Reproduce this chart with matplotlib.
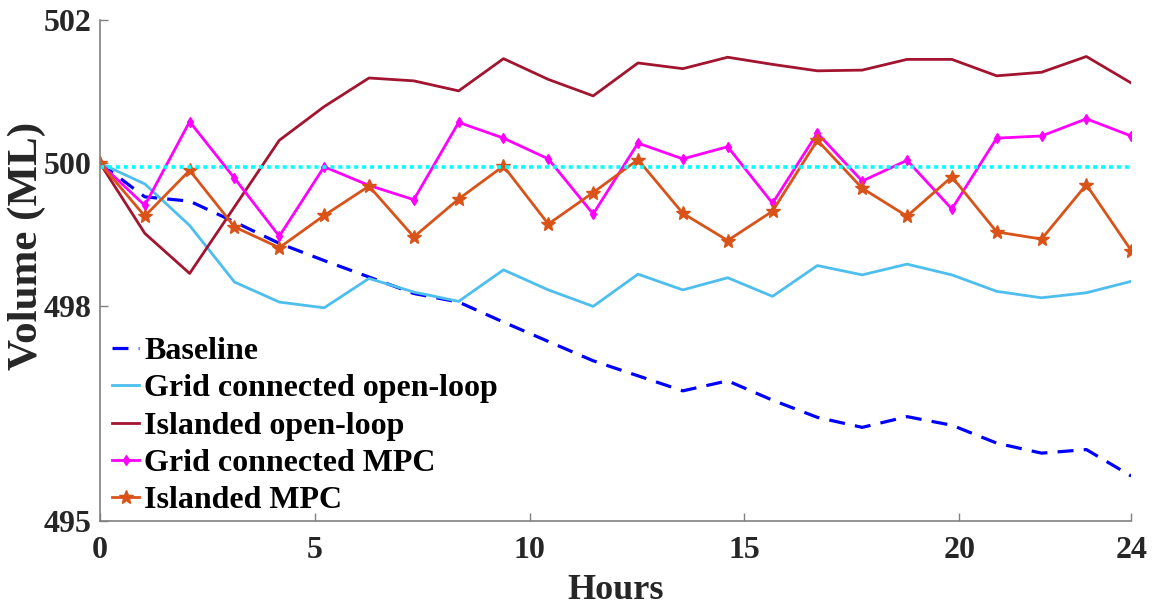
import numpy as np
import matplotlib
matplotlib.use("Agg")
import matplotlib.pyplot as plt

plt.rcParams['font.family'] = ['Liberation Serif', 'DejaVu Serif']
plt.rcParams['font.weight'] = 'bold'

# 24 samples over the day
hours = np.linspace(0, 24, 24)

baseline = [500.00, 499.53, 499.47, 499.18, 498.88, 498.64, 498.41, 498.18,
            498.06, 497.78, 497.51, 497.24, 497.03, 496.82, 496.96, 496.69,
            496.45, 496.31, 496.46, 496.34, 496.09, 495.95, 496.00, 495.63]
grid_open = [500.00, 499.71, 499.13, 498.34, 498.06, 497.98, 498.39, 498.20,
             498.07, 498.51, 498.23, 498.00, 498.45, 498.23, 498.40, 498.14,
             498.57, 498.44, 498.59, 498.44, 498.21, 498.12, 498.19, 498.35]
island_open = [500.00, 499.02, 498.46, 499.39, 500.32, 500.79, 501.19, 501.15,
               501.01, 501.46, 501.17, 500.94, 501.40, 501.32, 501.48, 501.38,
               501.29, 501.30, 501.45, 501.45, 501.22, 501.27, 501.49, 501.12]
grid_mpc = [500.00, 499.41, 500.58, 499.79, 498.98, 499.95, 499.69, 499.49,
            500.57, 500.35, 500.06, 499.29, 500.28, 500.06, 500.23, 499.44,
            500.42, 499.75, 500.04, 499.36, 500.35, 500.38, 500.62, 500.38]
island_mpc = [500.00, 499.26, 499.90, 499.11, 498.82, 499.27, 499.68, 498.97,
              499.50, 499.96, 499.15, 499.59, 500.05, 499.30, 498.92, 499.33,
              500.32, 499.65, 499.26, 499.81, 499.04, 498.94, 499.70, 498.78]
target = 499.95

labels = ['Baseline', 'Grid connected open-loop', 'Islanded open-loop',
          'Grid connected MPC', 'Islanded MPC']

fig = plt.figure(figsize=(11.53, 6.06), dpi=100)
ax = fig.add_axes([0.0867, 0.140, 0.8944, 0.827])

ax.plot(hours, baseline, color='#0000ff', lw=2.3, dashes=(5, 3.2), label=labels[0])
ax.plot(hours, grid_open, color='#4DBEEE', lw=2.0, label=labels[1])
ax.plot(hours, island_open, color='#A2142F', lw=2.0, label=labels[2])
ax.plot(hours, grid_mpc, color='#ff00ff', lw=2.0, marker='d', markersize=5,
        label=labels[3])
ax.plot(hours, island_mpc, color='#D95319', lw=2.0, marker='*', markersize=10,
        label=labels[4])
ax.plot([hours[0], hours[-1]], [target, target], color='#00ffff', lw=2.6,
        dashes=(1.1, 1.1))

ax.set_xlim(0, 24)
ax.set_ylim(495, 502)
ax.set_xticks([0, 5, 10, 15, 20, 24])
ax.set_yticks([495, 498, 500, 502])

for s in ['top', 'right']:
    ax.spines[s].set_visible(False)
for s in ['left', 'bottom']:
    ax.spines[s].set_color('#808080')
    ax.spines[s].set_linewidth(1.2)
ax.tick_params(direction='in', length=6, width=1.0, color='#808080',
               labelsize=23, labelcolor='#262626')
ax.tick_params(axis='x', pad=11)
ax.tick_params(axis='y', pad=6)

ax.set_xlabel('Hours', fontsize=26, fontweight='bold', color='#262626', labelpad=6)
ax.set_ylabel('Volume (ML)', fontsize=31, fontweight='bold', color='#262626')
ax.yaxis.set_label_coords(-0.052, 0.55)

leg = ax.legend(loc='upper left', bbox_to_anchor=(0.012, 0.368), frameon=False,
                fontsize=23, handlelength=0.85, handletextpad=0.15,
                labelspacing=0.25, borderaxespad=0, borderpad=0)

fig.savefig('out.png', dpi=100, facecolor='white')
